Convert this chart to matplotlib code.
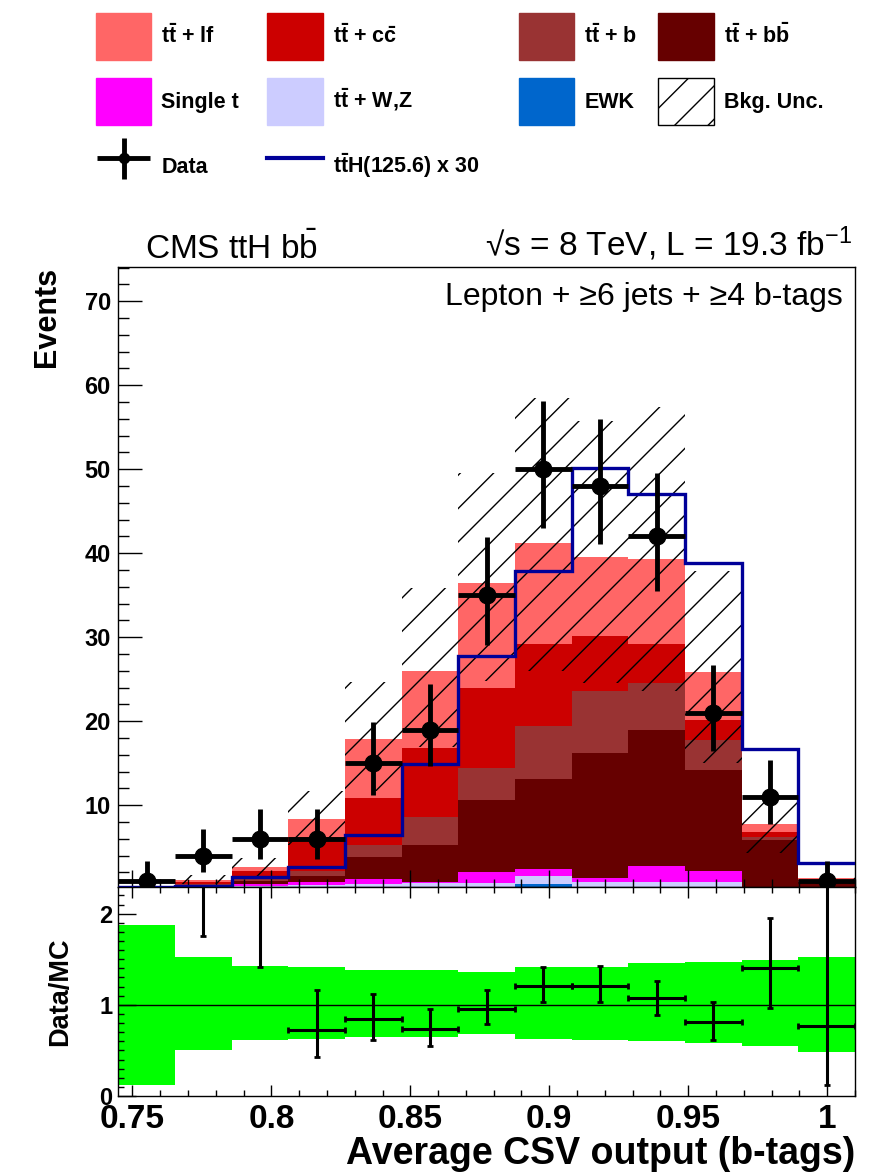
import numpy as np
import matplotlib
matplotlib.use('Agg')
import matplotlib.pyplot as plt
from matplotlib.patches import Patch
from matplotlib.lines import Line2D
from matplotlib.legend_handler import HandlerErrorbar
from matplotlib.ticker import MultipleLocator, FormatStrFormatter

plt.rcParams['font.family'] = ['Liberation Sans', 'DejaVu Sans']
plt.rcParams['font.weight'] = 'bold'
plt.rcParams['axes.labelweight'] = 'bold'
plt.rcParams['mathtext.fontset'] = 'custom'
plt.rcParams['mathtext.rm'] = 'Liberation Sans:normal'
plt.rcParams['mathtext.bf'] = 'Liberation Sans:bold'
plt.rcParams['mathtext.it'] = 'Liberation Sans:italic:normal'
plt.rcParams['hatch.linewidth'] = 1.0

# binning of the average CSV output
edges = np.linspace(0.745, 1.01, 14)

# background yields per bin (stack order, bottom -> top)
ewk      = [0.0, 0.0, 0.0, 0.0, 0.0, 0.0, 0.0, 0.6, 0.0, 0.0, 0.0, 0.0, 0.0]
ttv      = [0.03, 0.3, 0.4, 0.5, 0.6, 0.7, 0.7, 1.0, 0.9, 0.8, 0.8, 0.1, 0.05]
single_t = [0.03, 0.05, 0.2, 0.3, 0.6, 0.2, 1.3, 0.8, 0.4, 2.0, 1.4, 0.1, 0.05]
ttbb     = [0.07, 0.15, 0.4, 0.8, 2.6, 4.3, 8.6, 10.7, 14.9, 16.2, 12.0, 5.7, 0.8]
ttb      = [0.04, 0.1, 0.3, 0.6, 1.4, 3.4, 3.8, 6.3, 7.4, 5.5, 3.5, 0.3, 0.1]
ttcc     = [0.05, 0.2, 0.8, 4.0, 5.7, 8.2, 9.5, 9.8, 6.5, 4.7, 2.4, 0.6, 0.1]
ttlf     = [0.13, 0.3, 0.5, 2.1, 7.0, 9.2, 12.5, 12.0, 9.4, 10.1, 5.7, 1.0, 0.2]

# ttH signal (x30)
tth30 = [0.3, 0.4, 1.4, 2.6, 6.4, 14.9, 27.7, 37.9, 50.1, 47.0, 38.8, 16.7, 3.1]

# data
data    = [1, 4, 6, 6, 15, 19, 35, 50, 48, 42, 21, 11, 1]
data_lo = [0.83, 1.91, 2.38, 2.38, 3.83, 4.32, 5.89, 7.04, 6.89, 6.45, 4.55, 3.28, 0.83]
data_hi = [2.30, 3.16, 3.58, 3.58, 4.95, 5.43, 6.97, 8.12, 7.98, 7.53, 5.67, 4.42, 2.30]

# ratio panel
band_lo  = [0.12, 0.51, 0.61, 0.63, 0.65, 0.65, 0.68, 0.63, 0.62, 0.60, 0.58, 0.55, 0.48]
band_hi  = [1.88, 1.53, 1.43, 1.41, 1.38, 1.38, 1.36, 1.42, 1.41, 1.46, 1.47, 1.49, 1.53]
ratio    = [np.nan, 3.6, 2.5, 0.72, 0.84, 0.73, 0.96, 1.21, 1.21, 1.07, 0.81, 1.40, 0.77]
ratio_lo = [0.0, 1.85, 1.08, 0.29, 0.23, 0.18, 0.17, 0.18, 0.18, 0.18, 0.19, 0.43, 0.65]
ratio_hi = [0.0, 2.0, 1.3, 0.44, 0.28, 0.22, 0.20, 0.21, 0.22, 0.19, 0.22, 0.55, 1.8]

colors = ['#0066cc', '#ccccff', '#ff00ff', '#660000', '#993333', '#cc0000', '#ff6666']
layers = [ewk, ttv, single_t, ttbb, ttb, ttcc, ttlf]

centers = 0.5 * (edges[1:] + edges[:-1])
halfw = 0.5 * (edges[1:] - edges[:-1])
total = np.sum(layers, axis=0)

fig = plt.figure(figsize=(8.83, 11.72), dpi=100)
ax = fig.add_axes([0.1342, 0.2430, 0.8341, 0.5294])
ax2 = fig.add_axes([0.1342, 0.0648, 0.8341, 0.1782], sharex=ax)

# main panel
ax.hist([centers] * 7, bins=edges, weights=layers, stacked=True,
        histtype='stepfilled', color=colors, linewidth=0, zorder=1)
ax.stairs(total * np.array(band_hi), edges, baseline=total * np.array(band_lo),
          fill=True, facecolor='none', edgecolor='black', hatch='/', linewidth=0, zorder=2)
ax.stairs(tth30, edges, baseline=None, color='#000099', linewidth=2.4, zorder=3)
h_data = ax.errorbar(centers, data, xerr=halfw, yerr=[data_lo, data_hi], fmt='o',
                     color='black', ms=12, elinewidth=3.5, capsize=0, zorder=4)

ax.set_xlim(edges[0], edges[-1])
ax.set_ylim(0.23, 74.1)
ax.yaxis.set_major_locator(MultipleLocator(10))
ax.yaxis.set_minor_locator(MultipleLocator(2))
ax.xaxis.set_major_locator(MultipleLocator(0.05))
ax.xaxis.set_minor_locator(MultipleLocator(0.01))
ax.tick_params(which='both', direction='in', top=False, right=False, labelbottom=False)
ax.tick_params(axis='y', which='major', length=17, width=1, labelsize=17, pad=5.5)
ax.tick_params(axis='y', which='minor', length=8, width=1)
ax.tick_params(axis='x', which='major', length=12, width=1)
ax.tick_params(axis='x', which='minor', length=5.5, width=1)
ax.set_ylabel('Events', fontsize=22, fontweight='bold', loc='top')
ax.yaxis.set_label_coords(-0.077, 1.0)

# ratio panel
ax2.stairs(band_hi, edges, baseline=band_lo, fill=True, color='#00ff00', linewidth=0, zorder=1)
ax2.axhline(1, color='black', linewidth=1, zorder=2)
ax2.errorbar(centers, ratio, xerr=halfw, yerr=[ratio_lo, ratio_hi], fmt='none',
             ecolor='black', elinewidth=2.2, capsize=2, capthick=2, zorder=3)
ax2.set_ylim(0, 2.29)
ax2.yaxis.set_major_locator(MultipleLocator(1))
ax2.yaxis.set_minor_locator(MultipleLocator(0.1))
ax2.yaxis.set_major_formatter(FormatStrFormatter('%g'))
ax2.xaxis.set_major_formatter(FormatStrFormatter('%g'))
ax2.tick_params(which='both', direction='in', top=True, right=False)
ax2.tick_params(axis='y', which='major', length=13, width=1, labelsize=17, pad=4.5)
ax2.tick_params(axis='y', which='minor', length=4.5, width=1)
ax2.tick_params(axis='x', which='major', length=8, width=1, labelsize=24, pad=6)
ax2.tick_params(axis='x', which='minor', length=4, width=1)
ax2.set_ylabel('Data/MC', fontsize=19.5, fontweight='bold')
ax2.yaxis.set_label_coords(-0.061, 0.5)
ax2.set_xlabel('Average CSV output (b-tags)', fontsize=27, fontweight='bold', loc='right')
ax2.xaxis.set_label_coords(1.0, -0.19)

for a in (ax, ax2):
    for s in a.spines.values():
        s.set_linewidth(1.0)

# header texts
fig.text(145 / 883, 1 - 259 / 1172, r'CMS ttH b$\bar{\mathrm{b}}$', fontsize=24,
         fontweight='normal', ha='left', va='baseline')
fig.text(852 / 883, 1 - 256 / 1172, '√s = 8 TeV, L = 19.3 fb$^{-1}$', fontsize=24,
         fontweight='normal', ha='right', va='baseline')
fig.text(843 / 883, 1 - 305 / 1172, 'Lepton + ≥6 jets + ≥4 b-tags', fontsize=23,
         fontweight='normal', ha='right', va='baseline')

# legend
h_lf = Patch(facecolor='#ff6666', edgecolor='#ff6666')
h_cc = Patch(facecolor='#cc0000', edgecolor='#cc0000')
h_b = Patch(facecolor='#993333', edgecolor='#993333')
h_bb = Patch(facecolor='#660000', edgecolor='#660000')
h_st = Patch(facecolor='#ff00ff', edgecolor='#ff00ff')
h_ttv = Patch(facecolor='#ccccff', edgecolor='#ccccff')
h_ewk = Patch(facecolor='#0066cc', edgecolor='#0066cc')
h_unc = Patch(facecolor='white', edgecolor='black', hatch='/', linewidth=1)
h_tth = Line2D([], [], color='#000099', linewidth=3)

leg_kw = dict(frameon=False, fontsize=15.5, handlelength=2.56, handleheight=3.0,
              handletextpad=0.47, labelspacing=0.84, borderpad=0, borderaxespad=0,
              loc='upper left', ncol=2)
fig.legend([h_lf, h_st, h_data, h_cc, h_ttv, h_tth],
           [r'$\mathbf{t\bar{t}}$ + lf', 'Single t', 'Data',
            r'$\mathbf{t\bar{t}}$ + $\mathbf{c\bar{c}}$', r'$\mathbf{t\bar{t}}$ + W,Z',
            r'$\mathbf{t\bar{t}}$H(125.6) x 30'],
           bbox_to_anchor=(96 / 883, 1 - 12.7 / 1172), columnspacing=1.32, markerscale=0.6,
           handler_map={type(h_data): HandlerErrorbar(xerr_size=1.25, yerr_size=0.95)},
           **leg_kw)
fig.legend([h_b, h_ewk, h_bb, h_unc],
           [r'$\mathbf{t\bar{t}}$ + b', 'EWK', r'$\mathbf{t\bar{t}}$ + $\mathbf{b\bar{b}}$',
            'Bkg. Unc.'],
           bbox_to_anchor=(519 / 883, 1 - 12.7 / 1172), columnspacing=0.98, **leg_kw)

fig.savefig('out.png', dpi=100)
